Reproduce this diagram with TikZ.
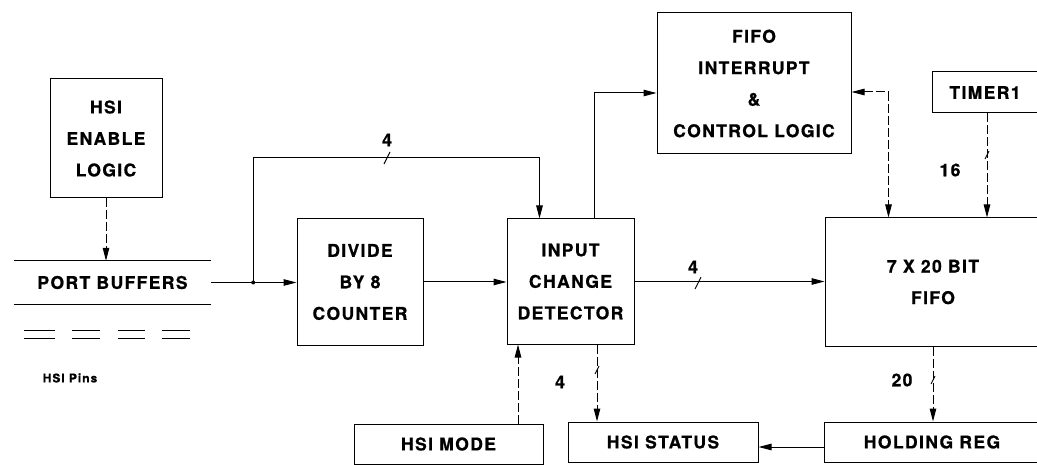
\documentclass[tikz,border=0pt]{standalone}
\usepackage{fontspec}
\newfontfamily\lab[LetterSpace=8,FakeBold=0.8]{TeX Gyre Heros}
\usetikzlibrary{arrows.meta}
\begin{document}
\begin{tikzpicture}[x=1pt,y=-1pt,
  every node/.style={font=\lab\bfseries\fontsize{17.5}{31.5}\selectfont, inner sep=0pt},
  blk/.style={draw, line width=1pt, align=center},
  conn/.style={line width=1pt},
  arr/.style={conn,-{Triangle[length=13pt,width=6.5pt]}},
  barr/.style={conn,{Triangle[length=13pt,width=6.5pt]}-{Triangle[length=13pt,width=6.5pt]}},
  dsh/.style={dash pattern=on 9pt off 3pt},
  tk/.style={line width=0.9pt},
  pinlbl/.style={font=\lab\bfseries\fontsize{12}{14}\selectfont}]
\useasboundingbox (0,0) rectangle (1037,465);
\clip (0,0) rectangle (1037,465);

% blocks
\node[blk, minimum width=112, minimum height=119] (enable) at (106,138.5) {HSI\\ENABLE\\LOGIC};
\node[minimum width=197, minimum height=43] (pb) at (112.5,282.5) {PORT BUFFERS};
\draw[conn] (pb.north west) -- (pb.north east);
\draw[conn] (pb.south west) -- (pb.south east);
\node[blk, minimum width=126, minimum height=126] (div) at (360,282) {DIVIDE\\BY 8\\COUNTER};
\node[blk, minimum width=127, minimum height=125] (icd) at (570.5,281.5) {INPUT\\CHANGE\\DETECTOR};
\node[blk, minimum width=194, minimum height=141] (ctl) at (754,83.5) {FIFO\\INTERRUPT\\\&\\CONTROL LOGIC};
\node[blk, minimum width=106, minimum height=41] (timer) at (985,92.5) {TIMER1};
\node[blk, minimum width=216, minimum height=128] (fifo) at (933,282) {7 X 20 BIT\\FIFO};
\node[blk, minimum width=216, minimum height=40] (hold) at (932,442) {HOLDING REG};
\node[blk, minimum width=189, minimum height=40] (mode) at (448.5,444) {HSI MODE};
\node[blk, minimum width=190, minimum height=40] (status) at (663,442) {HSI STATUS};

% HSI pins
\foreach \a/\b in {24/55,72/100,118/145,162/190}{
  \draw[line width=0.8pt] (\a,330) -- (\b,330);
  \draw[line width=0.8pt] (\a,338) -- (\b,338);
}
\node[pinlbl] (pins) at (70,378) {HSI Pins};

% connectors
\draw[arr,dsh] (enable.south) -- (enable.south |- pb.north);

\coordinate (jn) at ([xshift=42pt]pb.east);
\draw[arr] (pb.east) -- (pb.east -| div.west);
\fill (jn) circle (2);
\coordinate (d1) at ([xshift=33pt]icd.north west);
\draw[arr] (jn) -- ++(0,-125) -| (d1);
\draw[tk] (384,164) -- (390,152);
\node (l4a) at (387,140) {4};

\draw[arr] (div.east) -- (div.east -| icd.west);

\coordinate (c1) at ([xshift=88pt]icd.north west);
\coordinate (c2) at ([yshift=-9.5pt]ctl.west);
\draw[arr] (c1) |- (c2);

\coordinate (b1) at ([yshift=-8.5pt]ctl.east);
\coordinate (b2) at ([xshift=64pt]fifo.north west);
\draw[barr,dsh] (b1) -| (b2);

\coordinate (t1) at ([xshift=2pt]timer.south);
\draw[arr,dsh] (t1) -- (t1 |- fifo.north);
\draw[tk] (985,159) -- (989,151);
\node (l16) at (950,170) {16};

\draw[arr] (icd.east) -- (icd.east -| fifo.west);
\draw[tk] (695,289) -- (701,277);
\node (l4b) at (693,267) {4};

\coordinate (a1) at ([xshift=26.5pt]icd.south);
\draw[arr,dsh] (a1) -- (a1 |- status.north);
\draw[tk] (595,374) -- (599,366);
\node (l4c) at (560,382) {4};

\coordinate (m1) at ([xshift=69.5pt]mode.north);
\draw[arr,dsh] (m1) -- (m1 |- icd.south);

\draw[arr,dsh] (fifo.south) -- (fifo.south |- hold.north);
\draw[tk] (931,384) -- (935,376);
\node (l20) at (902,380) {20};

\coordinate (h1) at ([yshift=-5pt]hold.west);
\draw[arr] (h1) -- (h1 -| status.east);
\end{tikzpicture}
\end{document}
